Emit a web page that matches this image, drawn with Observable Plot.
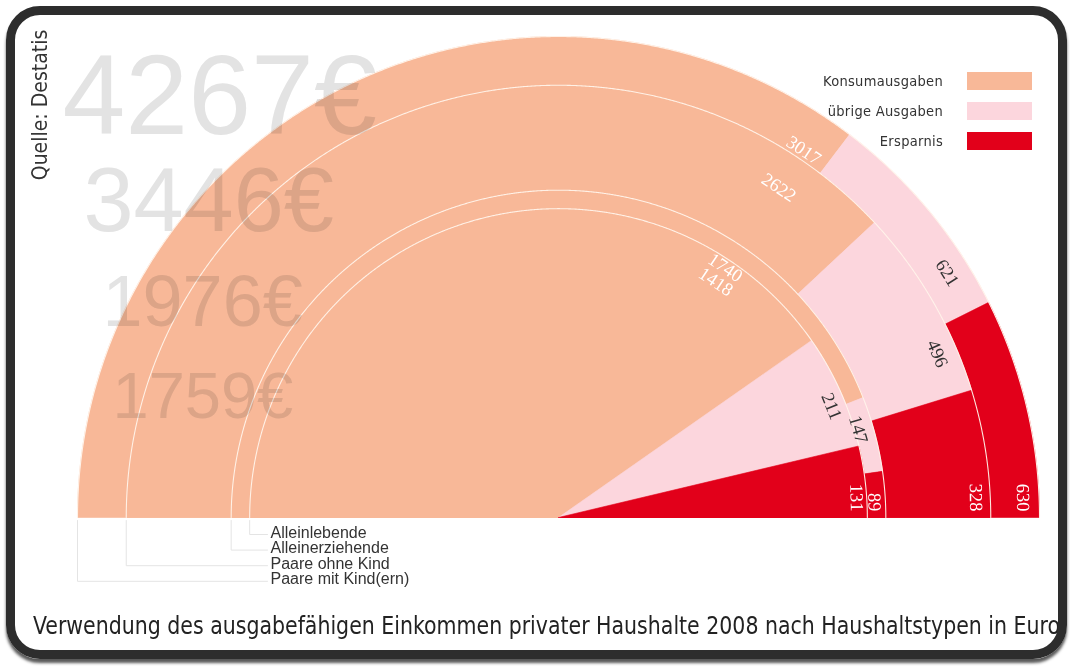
<!DOCTYPE html>
<html><head><meta charset="utf-8">
<script src="https://cdn.jsdelivr.net/npm/d3@7"></script>
<script src="https://cdn.jsdelivr.net/npm/@observablehq/plot@0.6"></script>
<style>
html,body{margin:0;padding:0;background:#fff;overflow:hidden}
#wrap{position:relative;width:1073px;height:669px;background:#fff;overflow:hidden}
#chart{position:absolute;left:0;top:0}
#chart svg{background:transparent;max-width:none}
#frame{position:absolute;left:6px;top:6px;width:1061px;height:653px;box-sizing:border-box;border:9px solid #2d2d2d;border-radius:34px;box-shadow:0 4px 3px rgba(0,0,0,0.65);pointer-events:none}
#title{position:absolute;left:33px;top:611px;font-family:"Liberation Sans Narrow","DejaVu Sans Condensed","Liberation Sans",sans-serif;font-size:25px;color:#222;white-space:nowrap;transform-origin:0 0}
#source{position:absolute;left:40px;top:105px;transform:translate(-50%,-50%) rotate(-90deg);font-family:"Liberation Sans Narrow","DejaVu Sans Condensed","Liberation Sans",sans-serif;font-size:21px;color:#333;white-space:nowrap}
#legend{position:absolute;left:780px;top:72px;width:252px}
.lrow{display:flex;align-items:center;justify-content:flex-end;height:18px;margin-bottom:12px}
.lrow span{font-family:"Liberation Sans Narrow","DejaVu Sans Condensed","Liberation Sans",sans-serif;font-size:14.5px;color:#333;margin-right:24px;letter-spacing:0.3px}
.lrow i{display:block;width:65px;height:18px}
</style>
</head><body>
<div id="wrap">
  <div id="chart"></div>
  <div id="source">Quelle: Destatis</div>
  <div id="legend"></div>
  <div id="title">Verwendung des ausgabefähigen Einkommen privater Haushalte 2008 nach Haushaltstypen in Euro</div>
  <div id="frame"></div>
</div>
<script>
// ---- data ----
const households = ["Paare mit Kind(ern)", "Paare ohne Kind", "Alleinerziehende", "Alleinlebende"];
const totals = [4267, 3446, 1976, 1759];
const categories = ["Konsumausgaben", "übrige Ausgaben", "Ersparnis"];
const konsum = [3017, 2622, 1740, 1418];
const uebrige = [621, 496, 147, 211];
const ersparnis = [630, 328, 89, 131];
const listOrder = ["Alleinlebende", "Alleinerziehende", "Paare ohne Kind", "Paare mit Kind(ern)"];

// ---- styles / layout ----
const catColors = ["#f8b898", "#fcd6dd", "#e2001a"];
const labelColors = ["#ffffff", "#333333", "#ffffff"];
const W = 1073, H = 600, CX = 558, CY = 517, OUTER = 481;
const Rmax = Math.sqrt(d3.max(totals));
const k = OUTER / Rmax;           // px per unit
const px = v => v / k;            // px -> data units
const series = [konsum, uebrige, ersparnis];
const deg = Math.PI / 180;

function arcPts(r, a0, a1, withCenter) {
  const n = Math.max(2, Math.ceil(Math.abs(a1 - a0) / 0.003));
  const pts = withCenter ? [[0, 0]] : [];
  for (let s = 0; s <= n; s++) {
    const a = a0 + (a1 - a0) * s / n;
    pts.push([r * Math.cos(a), r * Math.sin(a)]);
  }
  if (withCenter) pts.push([0, 0]);
  return pts;
}

const sums = households.map((h, i) => konsum[i] + uebrige[i] + ersparnis[i]);
const konsumEnds = households.map((h, i) => Math.PI * (1 - konsum[i] / sums[i]));
const konsumLabelAngle = d3.max(konsumEnds) + 3.5 * deg;

const marks = [];
const labelSets = [[], [], []];

households.forEach((h, i) => {
  const r = Math.sqrt(totals[i]);
  let cum = 0;
  series.forEach((arr, j) => {
    const a0 = Math.PI * (1 - cum / sums[i]);
    cum += arr[i];
    const a1 = Math.PI * (1 - cum / sums[i]);
    marks.push(Plot.line(arcPts(r, a0, a1, true), {
      x: d => d[0], y: d => d[1], fill: catColors[j], stroke: catColors[j], strokeWidth: 0.6, curve: "linear"
    }));
    let rl, th;
    if (j === 0) { rl = 0.918 * r; th = konsumLabelAngle; }
    else if (j === 1) { rl = 0.955 * r; th = a1 + px(45) / rl; }
    else { rl = 0.966 * r; th = px(6) / rl; }
    labelSets[j].push({x: rl * Math.cos(th), y: rl * Math.sin(th), rotate: 90 - th / deg, text: String(arr[i])});
  });
});

// thin outlines of each half circle
households.forEach((h, i) => {
  const r = Math.sqrt(totals[i]);
  marks.push(Plot.line(arcPts(r, Math.PI, 0, false), {x: d => d[0], y: d => d[1], stroke: "#fff3ea", strokeWidth: 1.1, strokeOpacity: 0.95}));
});

// value labels
labelSets.forEach((set, j) => {
  marks.push(Plot.text(set, {
    x: "x", y: "y", text: "text", rotate: "rotate",
    fill: labelColors[j], fontSize: 18.5, fontFamily: "Liberation Serif, 'DejaVu Serif', serif",
    textAnchor: j === 2 ? "end" : "middle", lineAnchor: "middle"
  }));
});

// leader lines + household names
const labX = px(270 - CX);
const leaders = [], names = [];
listOrder.forEach((name, row) => {
  const i = households.indexOf(name);
  const r = Math.sqrt(totals[i]);
  const yRow = -px(532 + 15.6 * row - CY);
  leaders.push({id: name, x: -r, y: -px(3)});
  leaders.push({id: name, x: -r, y: yRow - px(2)});
  leaders.push({id: name, x: labX - px(3), y: yRow - px(2)});
  names.push({x: labX, y: yRow, text: name});
});
marks.push(Plot.line(leaders, {x: "x", y: "y", z: "id", stroke: "#e4e4e4", strokeWidth: 1}));
marks.push(Plot.text(names, {x: "x", y: "y", text: "text", textAnchor: "start", lineAnchor: "middle",
  fontSize: 16, fontFamily: "Liberation Sans, Arial, sans-serif", fill: "#333"}));

// big background totals
const bigStyle = [
  {left: 62, base: 133, fs: 113},
  {left: 83, base: 230, fs: 90},
  {left: 102, base: 325, fs: 72},
  {left: 112, base: 417, fs: 65}
];
households.forEach((h, i) => {
  const s = bigStyle[i];
  marks.push(Plot.text([totals[i]], {
    frameAnchor: "top-left", dx: s.left - (CX - OUTER), dy: s.base - (CY - OUTER),
    text: d => d + "€", textAnchor: "start", lineAnchor: "bottom",
    fontSize: s.fs, fontFamily: "Liberation Sans, Arial, sans-serif",
    fill: "#e3e3e3", mixBlendMode: "multiply"
  }));
});

const chart = Plot.plot({
  width: W, height: H,
  marginLeft: CX - OUTER, marginRight: W - (CX + OUTER),
  marginTop: CY - OUTER, marginBottom: H - CY,
  x: {domain: [-Rmax, Rmax], axis: null},
  y: {domain: [0, Rmax], axis: null},
  style: {background: "transparent", overflow: "visible"},
  marks
});
document.getElementById("chart").appendChild(chart);

// legend
const leg = document.getElementById("legend");
categories.forEach((c, j) => {
  const row = document.createElement("div");
  row.className = "lrow";
  const sp = document.createElement("span"); sp.textContent = c;
  const sw = document.createElement("i"); sw.style.background = catColors[j];
  row.appendChild(sp); row.appendChild(sw); leg.appendChild(row);
});

// fit title width
const t = document.getElementById("title");
const w = t.getBoundingClientRect().width;
if (w > 0) t.style.transform = `scaleX(${1027 / w})`;
</script>
</body></html>
